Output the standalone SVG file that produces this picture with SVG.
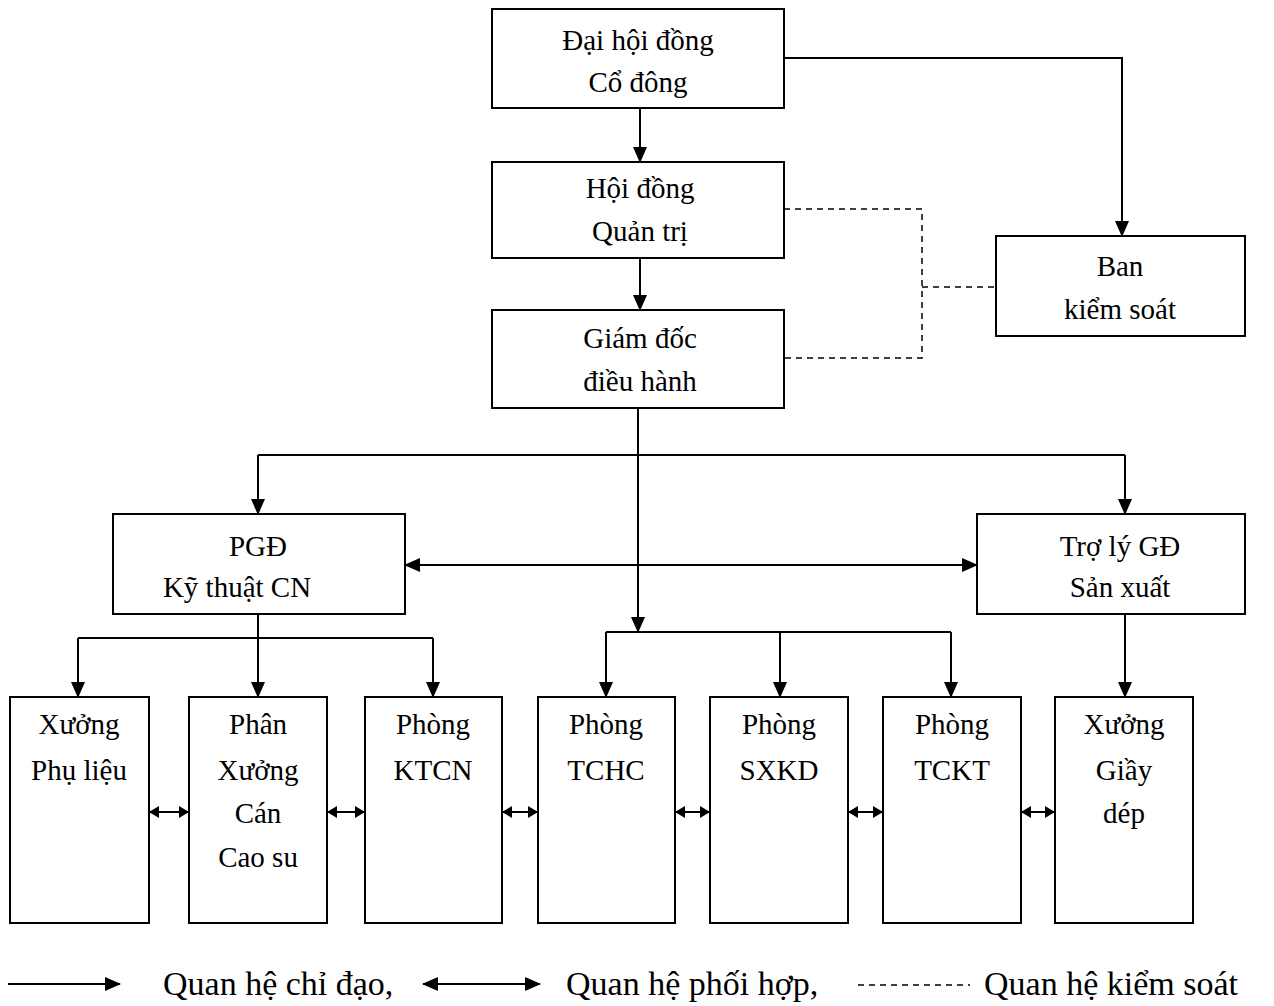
<svg xmlns="http://www.w3.org/2000/svg" width="1274" height="1006" viewBox="0 0 1274 1006">
<style>
.box{fill:#fff;stroke:#000;stroke-width:2}
.t{font-family:"Liberation Serif","Times New Roman",serif;font-size:29px;fill:#000;text-anchor:middle}
.l{font-family:"Liberation Serif","Times New Roman",serif;font-size:34px;fill:#000}
.c{fill:none;stroke:#000;stroke-width:2}
.d{fill:none;stroke:#000;stroke-width:1.5;stroke-dasharray:6,5}
</style>
<defs>
<marker id="ah" markerUnits="userSpaceOnUse" markerWidth="16" markerHeight="14" refX="15" refY="7" orient="auto"><path d="M0,0 L16,7 L0,14 Z" fill="#000"/></marker>
<marker id="as" markerUnits="userSpaceOnUse" markerWidth="16" markerHeight="14" refX="1" refY="7" orient="auto"><path d="M16,0 L0,7 L16,14 Z" fill="#000"/></marker>
<marker id="sh" markerUnits="userSpaceOnUse" markerWidth="10" markerHeight="12" refX="10" refY="6" orient="auto"><path d="M0,0 L10,6 L0,12 Z" fill="#000"/></marker>
<marker id="ss" markerUnits="userSpaceOnUse" markerWidth="10" markerHeight="12" refX="0" refY="6" orient="auto"><path d="M10,0 L0,6 L10,12 Z" fill="#000"/></marker>
</defs>
<rect width="1274" height="1006" fill="#fff"/>
<g id="connectors">
<path class="c" d="M640,108 V162" marker-end="url(#ah)"/>
<path class="c" d="M640,258 V310" marker-end="url(#ah)"/>
<path class="c" d="M784,58 H1122 V236" marker-end="url(#ah)"/>
<path class="d" d="M784,209 H922 V358 H784"/>
<path class="d" d="M922,287 H996"/>
<path class="c" d="M638,408 V632" marker-end="url(#ah)"/>
<path class="c" d="M258,455 H1125"/>
<path class="c" d="M258,455 V514" marker-end="url(#ah)"/>
<path class="c" d="M1125,455 V514" marker-end="url(#ah)"/>
<path class="c" d="M405,565 H977" marker-start="url(#as)" marker-end="url(#ah)"/>
<path class="c" d="M606,632 H951"/>
<path class="c" d="M606,632 V697" marker-end="url(#ah)"/>
<path class="c" d="M780,632 V697" marker-end="url(#ah)"/>
<path class="c" d="M951,632 V697" marker-end="url(#ah)"/>
<path class="c" d="M78,638 H433"/>
<path class="c" d="M78,638 V697" marker-end="url(#ah)"/>
<path class="c" d="M258,614 V697" marker-end="url(#ah)"/>
<path class="c" d="M433,638 V697" marker-end="url(#ah)"/>
<path class="c" d="M1125,614 V697" marker-end="url(#ah)"/>
<path class="c" d="M149,812 H189" marker-start="url(#ss)" marker-end="url(#sh)"/>
<path class="c" d="M327,812 H365" marker-start="url(#ss)" marker-end="url(#sh)"/>
<path class="c" d="M502,812 H538" marker-start="url(#ss)" marker-end="url(#sh)"/>
<path class="c" d="M675,812 H710" marker-start="url(#ss)" marker-end="url(#sh)"/>
<path class="c" d="M848,812 H883" marker-start="url(#ss)" marker-end="url(#sh)"/>
<path class="c" d="M1021,812 H1055" marker-start="url(#ss)" marker-end="url(#sh)"/>
</g>
<g id="n-dhdcd"><rect class="box" x="492" y="9" width="292" height="99"/><text class="t" x="638" y="50">Đại hội đồng</text><text class="t" x="638" y="92">Cổ đông</text></g>
<g id="n-hdqt"><rect class="box" x="492" y="162" width="292" height="96"/><text class="t" x="640" y="198">Hội đồng</text><text class="t" x="640" y="241">Quản trị</text></g>
<g id="n-gd"><rect class="box" x="492" y="310" width="292" height="98"/><text class="t" x="640" y="348">Giám đốc</text><text class="t" x="640" y="391">điều hành</text></g>
<g id="n-bks"><rect class="box" x="996" y="236" width="249" height="100"/><text class="t" x="1120" y="276">Ban</text><text class="t" x="1120" y="319">kiểm soát</text></g>
<g id="n-pgd"><rect class="box" x="113" y="514" width="292" height="100"/><text class="t" x="258" y="556">PGĐ</text><text class="t" x="237" y="597">Kỹ thuật CN</text></g>
<g id="n-tly"><rect class="box" x="977" y="514" width="268" height="100"/><text class="t" x="1120" y="556">Trợ lý GĐ</text><text class="t" x="1120" y="597">Sản xuất</text></g>
<g id="n-xpl"><rect class="box" x="10" y="697" width="139" height="226"/><text class="t" x="79" y="734">Xưởng</text><text class="t" x="79" y="780">Phụ liệu</text></g>
<g id="n-pxc"><rect class="box" x="189" y="697" width="138" height="226"/><text class="t" x="258" y="734">Phân</text><text class="t" x="258" y="780">Xưởng</text><text class="t" x="258" y="823">Cán</text><text class="t" x="258" y="867">Cao su</text></g>
<g id="n-ktcn"><rect class="box" x="365" y="697" width="137" height="226"/><text class="t" x="433" y="734">Phòng</text><text class="t" x="433" y="780">KTCN</text></g>
<g id="n-tchc"><rect class="box" x="538" y="697" width="137" height="226"/><text class="t" x="606" y="734">Phòng</text><text class="t" x="606" y="780">TCHC</text></g>
<g id="n-sxkd"><rect class="box" x="710" y="697" width="138" height="226"/><text class="t" x="779" y="734">Phòng</text><text class="t" x="779" y="780">SXKD</text></g>
<g id="n-tckt"><rect class="box" x="883" y="697" width="138" height="226"/><text class="t" x="952" y="734">Phòng</text><text class="t" x="952" y="780">TCKT</text></g>
<g id="n-xgd"><rect class="box" x="1055" y="697" width="138" height="226"/><text class="t" x="1124" y="734">Xưởng</text><text class="t" x="1124" y="780">Giầy</text><text class="t" x="1124" y="823">dép</text></g>
<g id="legend">
<path class="c" d="M8,984 H120" marker-end="url(#ah)"/>
<text class="l" x="163" y="995">Quan hệ chỉ đạo,</text>
<path class="c" d="M423,984 H540" marker-start="url(#as)" marker-end="url(#ah)"/>
<text class="l" x="566" y="995">Quan hệ phối hợp,</text>
<path class="d" d="M858,985 H970"/>
<text class="l" x="984" y="995">Quan hệ kiểm soát</text>
</g>
</svg>
